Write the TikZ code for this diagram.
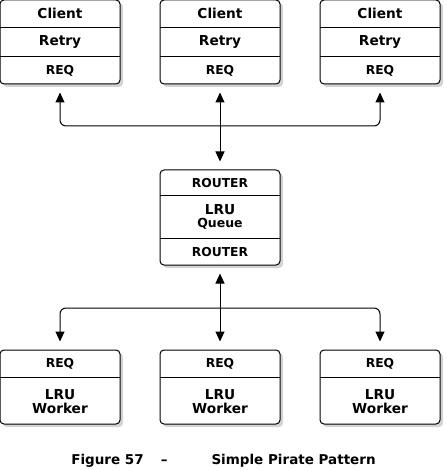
\documentclass[tikz,border=0pt]{standalone}
\usepackage{fontspec}
\setmainfont{DejaVu Sans}
\usetikzlibrary{positioning,arrows.meta,shadows}
\tikzset{
  x=1pt, y=-1pt,
  box/.style = { draw, fill=white, line width=1pt, rounded corners=4pt,
                 minimum width=120pt, inner sep=0pt,
                 drop shadow={shadow xshift=3pt, shadow yshift=-3pt, opacity=0.35} },
  cell/.style = { minimum width=120pt, inner sep=0pt, align=center,
                  font=\fontsize{13.7}{14}\selectfont\bfseries },
  small/.style = { font=\fontsize{12.3}{13}\selectfont\bfseries },
  sep/.style = { line width=1pt },
  arrow/.style = { line width=1pt, -{Triangle[length=10pt,width=9pt]},
                   rounded corners=6pt, shorten >=8pt },
  darrow/.style = { line width=1pt, {Triangle[length=10pt,width=9pt]}-{Triangle[length=10pt,width=9pt]},
                   shorten >=8pt, shorten <=8pt }
}
\begin{document}
\begin{tikzpicture}
  \useasboundingbox (0,0) rectangle (446,470);

  % clients
  \foreach \i/\x in {1/60,2/220,3/380} {
    \node[box, minimum height=84pt] (c\i) at (\x,42) {};
    \node[cell, minimum height=28pt, below=0pt of c\i.north] (c\i-a) {Client};
    \node[cell, minimum height=28pt, below=0pt of c\i-a] (c\i-b) {Retry};
    \node[cell, small, minimum height=28pt, below=0pt of c\i-b] (c\i-c) {REQ};
    \draw[sep] (c\i-a.south west) -- (c\i-a.south east);
    \draw[sep] (c\i-b.south west) -- (c\i-b.south east);
  }

  % broker
  \node[box, minimum height=95pt] (r) at (220,217.5) {};
  \node[cell, small, minimum height=26pt, below=0pt of r.north] (r-a) {ROUTER};
  \node[cell, minimum height=42pt, below=0pt of r-a] (r-b) {LRU\\[-1pt]{\fontsize{12.5}{13}\selectfont Queue}};
  \node[cell, small, minimum height=27pt, below=0pt of r-b] (r-c) {ROUTER};
  \draw[sep] (r-a.south west) -- (r-a.south east);
  \draw[sep] (r-b.south west) -- (r-b.south east);

  % workers
  \foreach \i/\x in {1/60,2/220,3/380} {
    \node[box, minimum height=74pt] (w\i) at (\x,387) {};
    \node[cell, small, minimum height=28pt, below=0pt of w\i.north] (w\i-a) {REQ};
    \node[cell, minimum height=46pt, below=0pt of w\i-a] (w\i-b) {LRU\\Worker};
    \draw[sep] (w\i-a.south west) -- (w\i-a.south east);
  }

  \coordinate (up) at (220,126);
  \coordinate (down) at (220,308);
  \draw[arrow] (up) -| (c1.south);
  \draw[arrow] (up) -| (c3.south);
  \draw[darrow] (c2.south) -- (r.north);
  \draw[arrow] (down) -| (w1.north);
  \draw[arrow] (down) -| (w3.north);
  \draw[darrow] (r.south) -- (w2.north);

  \node[font=\fontsize{13.5}{14}\selectfont\bfseries] (cap) at (223.5,461)
    {Figure 57\hspace{17pt}–\hspace{44pt}Simple Pirate Pattern};
\end{tikzpicture}
\end{document}
